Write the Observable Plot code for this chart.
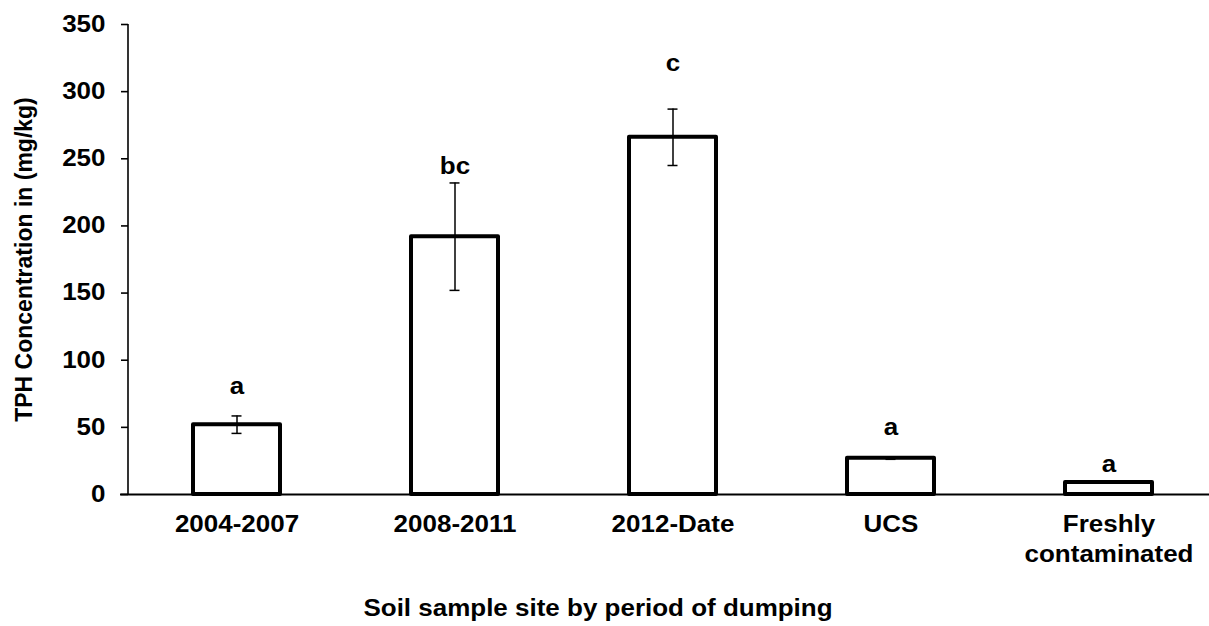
<!DOCTYPE html>
<html>
<head>
<meta charset="utf-8">
<script src="https://cdn.jsdelivr.net/npm/d3@7"></script>
<script src="https://cdn.jsdelivr.net/npm/@observablehq/plot@0.6"></script>
<style>
  html, body { margin: 0; padding: 0; background: #fff; }
  #chart svg { display: block; }
</style>
</head>
<body>
<div id="chart"></div>
<script>
// ---- data ----
const sites   = ["2004-2007", "2008-2011", "2012-Date", "UCS", "Freshly contaminated"];
const tph     = [52, 192, 266, 27, 9];
const sd      = [6.5, 40, 21, 0.8, 0];
const letters = ["a", "bc", "c", "a", "a"];
const letterY = [80, 244, 321, 50, 22];   // height of each letter label, mg/kg
const yTicks  = [0, 50, 100, 150, 200, 250, 300, 350];
const yTitle  = "TPH Concentration in (mg/kg)";
const xTitle  = "Soil sample site by period of dumping";
const xTickText = {"Freshly contaminated": "Freshly\ncontaminated"};

const data = sites.map((s, i) => ({
  site: s, value: tph[i], lo: tph[i] - sd[i], hi: tph[i] + sd[i],
  letter: letters[i], ly: letterY[i]
}));
const withErr = data.filter(d => d.hi > d.lo);

const font = "'Liberation Sans', Arial, sans-serif";
const W = 1209, H = 626;

const chart = Plot.plot({
  width: W,
  height: H,
  marginLeft: 128,
  marginRight: 0,
  marginTop: 24,
  marginBottom: 132,
  style: {fontFamily: font, fontWeight: "bold", fontSize: "23px", color: "#000", background: "#fff"},
  x: {domain: sites, range: [128, 1218], paddingInner: 0.6, paddingOuter: 0.3, label: null},
  y: {domain: [0, 350], label: null},
  marks: [
    Plot.axisY({
      ticks: yTicks, tickSize: 7, tickPadding: 16,
      stroke: "#000", strokeWidth: 1.6, fontSize: 23, label: null
    }),
    Plot.axisX({
      tickSize: 0, tickPadding: 16, fontSize: 23, lineHeight: 1.3, label: null,
      tickFormat: d => xTickText[d] ?? d
    }),
    // vertical axis line at the left edge of the first band
    Plot.ruleX([sites[0]], {x: d => d, y1: 0, y2: 350, dx: -109, stroke: "#000", strokeWidth: 1.6}),
    Plot.ruleY([0], {stroke: "#000", strokeWidth: 1.8, insetLeft: -8}),
    Plot.barY(data, {
      x: "site", y: "value", fill: "#fff", stroke: "#000",
      strokeWidth: 4, strokeLinejoin: "round"
    }),
    Plot.ruleX(withErr, {x: "site", y1: "lo", y2: "hi", stroke: "#000", strokeWidth: 1.5}),
    Plot.tickY(withErr, {x: "site", y: "hi", stroke: "#000", strokeWidth: 1.5, insetLeft: 38.5, insetRight: 38.5}),
    Plot.tickY(withErr, {x: "site", y: "lo", stroke: "#000", strokeWidth: 1.5, insetLeft: 38.5, insetRight: 38.5}),
    Plot.text(data, {x: "site", y: "ly", text: "letter", fontSize: 23, fill: "#000", lineAnchor: "middle"}),
    Plot.text([yTitle], {
      frameAnchor: "left", rotate: -90, dx: -104, dy: 0, fontSize: 23, fill: "#000",
      textAnchor: "middle", lineAnchor: "middle"
    }),
    Plot.text([xTitle], {
      frameAnchor: "bottom", dx: -71, dy: 114, fontSize: 23, fill: "#000",
      textAnchor: "middle", lineAnchor: "middle"
    })
  ]
});

// the reference's lettering is slightly wide: stretch horizontal text about its anchor
const SX = 1.13;
chart.querySelectorAll("text").forEach(t => {
  const tr = t.getAttribute("transform") || "";
  if (tr.includes("rotate")) return;
  [t, ...t.querySelectorAll("tspan")].forEach(el => {
    const x = el.getAttribute("x");
    if (x !== null && /^-?[\d.]+$/.test(x.trim())) el.setAttribute("x", +x / SX);
  });
  t.setAttribute("transform", `${tr} scale(${SX},1)`.trim());
});

document.getElementById("chart").appendChild(chart);
</script>
</body>
</html>
